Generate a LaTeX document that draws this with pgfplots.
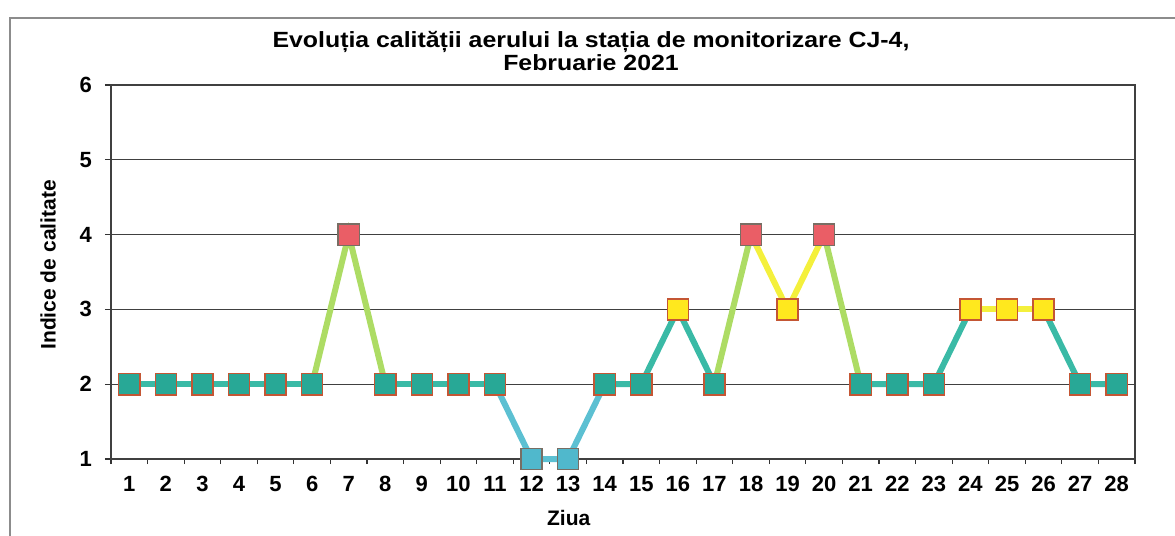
\documentclass[border=0pt]{standalone}
\usepackage{fontspec}
\setmainfont{Liberation Sans}
\newfontfamily\titlefont{Liberation Sans}[FakeStretch=1.13]
\usepackage{pgfplots}
\usepackage{pgfplotstable}
\pgfplotsset{compat=1.18}
\usetikzlibrary{calc}

\definecolor{tealL}{RGB}{58,186,166}
\definecolor{tealM}{RGB}{40,168,150}
\definecolor{blueL}{RGB}{92,192,210}
\definecolor{blueM}{RGB}{80,184,204}
\definecolor{yelL}{RGB}{244,240,60}
\definecolor{yelM}{RGB}{255,232,30}
\definecolor{redM}{RGB}{234,94,102}
\definecolor{edgeR}{RGB}{196,86,52}
\definecolor{edgeG}{RGB}{120,110,100}
\colorlet{mixL}{yelL!62!tealL}

% day, index, marker class
\pgfplotstableread{
day val cls
1 2 t
2 2 t
3 2 t
4 2 t
5 2 t
6 2 t
7 4 r
8 2 t
9 2 t
10 2 t
11 2 t
12 1 l
13 1 l
14 2 t
15 2 t
16 3 y
17 2 t
18 4 r
19 3 y
20 4 r
21 2 t
22 2 t
23 2 t
24 3 y
25 3 y
26 3 y
27 2 t
28 2 t
}\aqi

\begin{document}
\begin{tikzpicture}
\begin{axis}[
    name=ax,
    scale only axis,
    width=512pt, height=187pt,
    xmin=0.5, xmax=28.5,
    ymin=1, ymax=6,
    clip=false,
    xtick={1,...,28},
    ytick={1,...,6},
    minor xtick={0.5,1.5,...,28.5},
    major x tick style={draw=none},
    tick pos=left,
    tick align=outside,
    major tick length=3pt,
    minor tick length=2.5pt,
    tick style={black!80, line width=0.6pt},
    ymajorgrids,
    grid style={black!75, line width=0.6pt},
    axis line style={black!75, line width=0.6pt},
    /pgf/number format/assume math mode=true,
    tick label style={font=\fontsize{11}{13}\selectfont\bfseries},
    xticklabel style={yshift=-2pt},
    yticklabel style={xshift=-3pt},
    xlabel={Ziua},
    ylabel={Indice de calitate},
    label style={font=\fontsize{10.5}{12}\selectfont\bfseries},
    xlabel style={at={(axis description cs:0.447,-0.158)}, anchor=center},
    ylabel style={at={(axis description cs:-0.0615,0.519)}, anchor=center},
]
% line pieces
\addplot[tealL, line width=3pt] coordinates {(1,2) (2,2) (3,2) (4,2) (5,2) (6,2)};
\addplot[tealL, line width=3pt] coordinates {(8,2) (9,2) (10,2) (11,2)};
\addplot[tealL, line width=3pt] coordinates {(14,2) (15,2) (16,3) (17,2)};
\addplot[tealL, line width=3pt] coordinates {(21,2) (22,2) (23,2) (24,3)};
\addplot[tealL, line width=3pt] coordinates {(26,3) (27,2) (28,2)};
\addplot[blueL, line width=3pt] coordinates {(11,2) (12,1) (13,1) (14,2)};
\addplot[yelL, line width=3pt] coordinates {(18,4) (19,3) (20,4)};
\addplot[yelL, line width=3pt] coordinates {(24,3) (25,3) (26,3)};
% teal-to-yellow segments
\addplot[mixL, line width=3pt] coordinates {(6,2) (7,4) (8,2)};
\addplot[mixL, line width=3pt] coordinates {(17,2) (18,4)};
\addplot[mixL, line width=3pt] coordinates {(20,4) (21,2)};
% markers
\addplot[
    scatter, only marks,
    point meta=explicit symbolic,
    scatter/classes={
        t={mark=square*, mark size=5.3pt, fill=tealM, draw=edgeR, line width=0.7pt},
        l={mark=square*, mark size=5.3pt, fill=blueM, draw=edgeG, line width=0.7pt},
        y={mark=square*, mark size=5.3pt, fill=yelM, draw=edgeR, line width=0.7pt},
        r={mark=square*, mark size=5.3pt, fill=redM, draw=edgeG, line width=0.7pt}},
] table[x=day, y=val, meta=cls] {\aqi};
\end{axis}
\node[font=\fontsize{11}{10.5}\titlefont\bfseries, align=center, anchor=south]
    at ($(ax.north)+(-16pt,3.5pt)$) {Evoluția calității aerului la stația de monitorizare CJ-4,\\Februarie 2021};
% chart area frame
\draw[black!45, line width=0.7pt] ($(ax.south west)+(-50.5pt,-40pt)$) |- ($(ax.north east)+(22pt,33.5pt)$);
\pgfresetboundingbox
\path ($(ax.south west)+(-55.5pt,-38pt)$) rectangle ($(ax.north east)+(20pt,42.5pt)$);
\end{tikzpicture}
\end{document}
